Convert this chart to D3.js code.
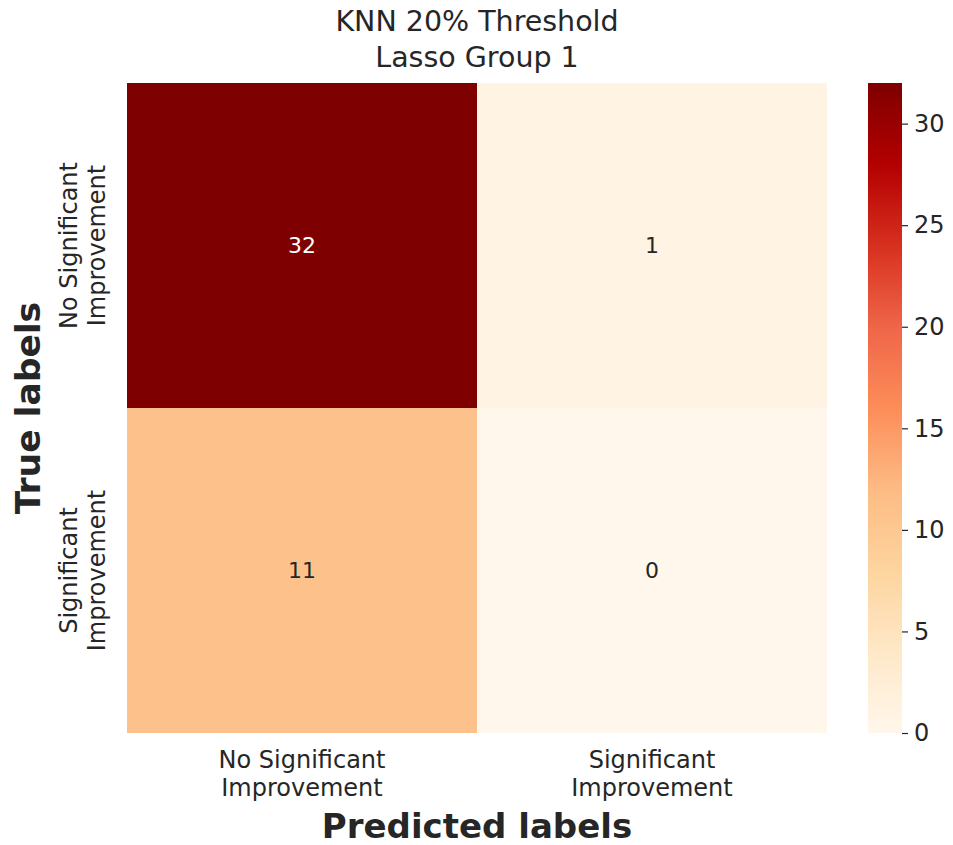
<!DOCTYPE html>
<html>
<head>
<meta charset="utf-8">
<script src="https://cdn.jsdelivr.net/npm/d3@7"></script>
<style>
  html, body { margin: 0; padding: 0; background: #ffffff; }
  svg { display: block; font-family: "DejaVu Sans", sans-serif; }
</style>
</head>
<body>
<svg id="chart" width="953" height="845"></svg>
<script>
// Confusion matrix data
const predictedLabels = ["No Significant\nImprovement", "Significant\nImprovement"];
const trueLabels = ["No Significant\nImprovement", "Significant\nImprovement"];
const counts = [
  [32, 1],
  [11, 0]
];
const colorbarTicks = [0, 5, 10, 15, 20, 25, 30];
const titleLines = ["KNN 20% Threshold", "Lasso Group 1"];

// OrRd colour stops
const orrd = ["#fff7ec", "#fee8c8", "#fdd49e", "#fdbb84", "#fc8d59", "#ef6548", "#d7301f", "#b30000", "#7f0000"];

const svg = d3.select("#chart");
const textColor = "#262626";

const plot = { left: 127, right: 827, top: 83, bottom: 733 };
const vmin = 0, vmax = d3.max(counts.flat());

const color = d3.scaleLinear()
  .domain(orrd.map((_, i) => vmin + (vmax - vmin) * i / (orrd.length - 1)))
  .range(orrd)
  .interpolate(d3.interpolateRgb);

const x = d3.scaleBand().domain(d3.range(predictedLabels.length)).range([plot.left, plot.right]);
const y = d3.scaleBand().domain(d3.range(trueLabels.length)).range([plot.top, plot.bottom]);

// Cells
const cells = [];
counts.forEach((row, i) => row.forEach((v, j) => cells.push({ i, j, v })));

svg.append("g").selectAll("rect").data(cells).join("rect")
  .attr("x", d => x(d.j))
  .attr("y", d => y(d.i))
  .attr("width", x.bandwidth())
  .attr("height", y.bandwidth())
  .attr("fill", d => color(d.v));

// Annotations
svg.append("g").selectAll("text").data(cells).join("text")
  .attr("x", d => x(d.j) + x.bandwidth() / 2)
  .attr("y", d => y(d.i) + y.bandwidth() / 2)
  .attr("text-anchor", "middle")
  .attr("dominant-baseline", "central")
  .attr("font-size", 22)
  .attr("fill", d => d.v > vmax * 0.6 ? "#ffffff" : textColor)
  .text(d => d.v);

// X tick labels (two lines each)
const xt = svg.append("g").selectAll("text").data(predictedLabels).join("text")
  .attr("x", (d, j) => x(j) + x.bandwidth() / 2)
  .attr("y", 768)
  .attr("text-anchor", "middle")
  .attr("font-size", 24)
  .attr("fill", textColor);
xt.selectAll("tspan").data(d => d.split("\n")).join("tspan")
  .attr("x", function () { return d3.select(this.parentNode).attr("x"); })
  .attr("dy", (d, k) => k === 0 ? 0 : 27.5)
  .text(d => d);

// Y tick labels (rotated, two lines each)
const ytg = svg.append("g").selectAll("g").data(trueLabels).join("g")
  .attr("transform", (d, i) => `translate(77,${y(i) + y.bandwidth() / 2}) rotate(-90)`);
ytg.append("text")
  .attr("text-anchor", "middle")
  .attr("font-size", 24)
  .attr("fill", textColor)
  .selectAll("tspan").data(d => d.split("\n")).join("tspan")
  .attr("x", 0)
  .attr("dy", (d, k) => k === 0 ? 0 : 27.5)
  .text(d => d);

// Axis titles
svg.append("text")
  .attr("x", (plot.left + plot.right) / 2)
  .attr("y", 838)
  .attr("text-anchor", "middle")
  .attr("font-size", 34)
  .attr("font-weight", "bold")
  .attr("fill", textColor)
  .text("Predicted labels");

svg.append("text")
  .attr("transform", `translate(40,${(plot.top + plot.bottom) / 2}) rotate(-90)`)
  .attr("text-anchor", "middle")
  .attr("font-size", 34.5)
  .attr("font-weight", "bold")
  .attr("fill", textColor)
  .text("True labels");

// Title
svg.append("text")
  .attr("x", (plot.left + plot.right) / 2)
  .attr("y", 31)
  .attr("text-anchor", "middle")
  .attr("font-size", 28.5)
  .attr("fill", textColor)
  .selectAll("tspan").data(titleLines).join("tspan")
  .attr("x", (plot.left + plot.right) / 2)
  .attr("dy", (d, k) => k === 0 ? 0 : 36)
  .text(d => d);

// Colorbar
const cb = { left: 868, width: 34, top: plot.top, bottom: plot.bottom };
const defs = svg.append("defs");
const grad = defs.append("linearGradient")
  .attr("id", "cbGrad")
  .attr("x1", 0).attr("y1", 1).attr("x2", 0).attr("y2", 0);
d3.range(0, 1.0001, 0.02).forEach(t => {
  grad.append("stop")
    .attr("offset", t)
    .attr("stop-color", color(vmin + t * (vmax - vmin)));
});
svg.append("rect")
  .attr("x", cb.left).attr("y", cb.top)
  .attr("width", cb.width).attr("height", cb.bottom - cb.top)
  .attr("fill", "url(#cbGrad)");

const cbScale = d3.scaleLinear().domain([vmin, vmax]).range([cb.bottom, cb.top]);
const cbAxis = d3.axisRight(cbScale).tickValues(colorbarTicks).tickSize(6).tickPadding(6);
const cbG = svg.append("g")
  .attr("transform", `translate(${cb.left + cb.width},0)`)
  .call(cbAxis);
cbG.select(".domain").remove();
cbG.selectAll("line").attr("stroke", textColor).attr("stroke-width", 1.2);
cbG.selectAll("text")
  .attr("font-family", "DejaVu Sans, sans-serif")
  .attr("font-size", 24)
  .attr("fill", textColor);
</script>
</body>
</html>
